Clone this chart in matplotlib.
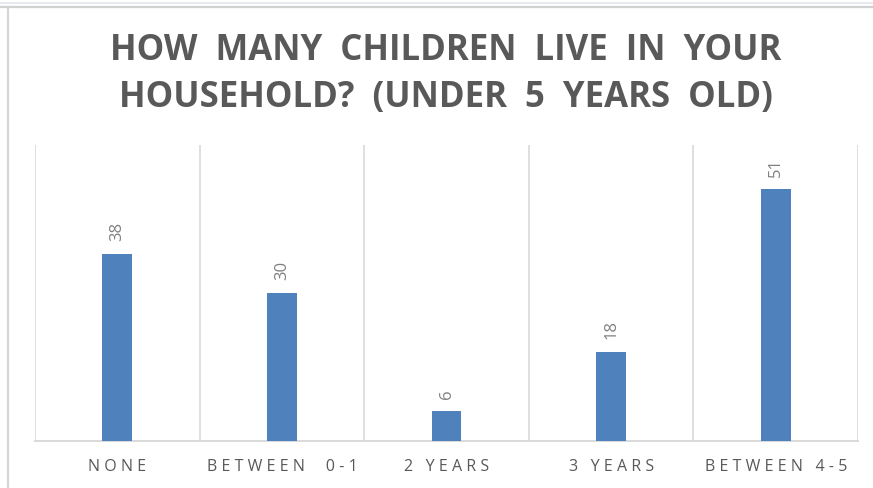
import matplotlib
matplotlib.use("Agg")
import matplotlib.pyplot as plt
from matplotlib.lines import Line2D
from matplotlib.patches import Rectangle

# survey answers
categories = ["NONE", "BETWEEN  0-1", "2 YEARS", "3 YEARS", "BETWEEN 4-5"]
counts = [38, 30, 6, 18, 51]

title_lines = ["HOW  MANY  CHILDREN  LIVE  IN  YOUR",
               "HOUSEHOLD?  (UNDER  5  YEARS  OLD)"]

BAR_BLUE = "#4f81bd"
GRID_GREY = "#d9d9d9"
TEXT_GREY = "#595959"
FONTS = ["Open Sans", "DejaVu Sans"]


def spaced(label, gap="\u2009"):
    # fake letter spacing by putting a narrow space between characters
    return gap.join(label)


W, H = 873, 489
fig = plt.figure(figsize=(W / 100, H / 100), dpi=100)
fig.patch.set_facecolor("white")

# window frame around the chart
fig.add_artist(Rectangle((0, 1 - 5 / H), 1, 2.5 / H, transform=fig.transFigure,
                         facecolor="#e6e9ee", edgecolor="none"))
fig.add_artist(Line2D([0, 1], [1 - 7.5 / H] * 2, transform=fig.transFigure,
                      color="#d0d0d0", lw=1.6))
fig.add_artist(Line2D([8 / W] * 2, [0, 1 - 8 / H], transform=fig.transFigure,
                      color="#d6d6d6", lw=1.6))

ax = fig.add_axes([35 / W, 1 - 442 / H, (858 - 35) / W, (442 - 146) / H])
x = range(len(categories))
bars = ax.bar(x, counts, width=0.18, color=BAR_BLUE, zorder=3)

ax.set_xlim(-0.5, len(categories) - 0.5)
ax.set_ylim(0, 60)
ax.set_yticks([])

# vertical separators between categories
for b in [i - 0.5 for i in range(len(categories) + 1)]:
    ax.axvline(b, color=GRID_GREY, lw=1.2, zorder=1)

for s in ["top", "right", "left"]:
    ax.spines[s].set_visible(False)
ax.spines["bottom"].set_color(GRID_GREY)
ax.spines["bottom"].set_linewidth(1.4)

ax.set_xticks(list(x))
ax.set_xticklabels([spaced(c, "\u2009\u200a") for c in categories],
                   fontsize=11.5, color=TEXT_GREY, family=FONTS)
ax.tick_params(axis="x", length=0, pad=12)

for rect, v in zip(bars, counts):
    ax.annotate(str(v), (rect.get_x() + rect.get_width() / 2, v),
                xytext=(0, 10), textcoords="offset points", rotation=90,
                ha="center", va="bottom", fontsize=12, color="#808080",
                family=FONTS)

for i, line in enumerate(title_lines):
    fig.text(446 / W, 1 - (51 + 47 * i) / H, line,
             ha="center", va="center", fontsize=25, fontweight="bold",
             color=TEXT_GREY, family=FONTS)

fig.savefig("out.png", dpi=100, facecolor="white")
